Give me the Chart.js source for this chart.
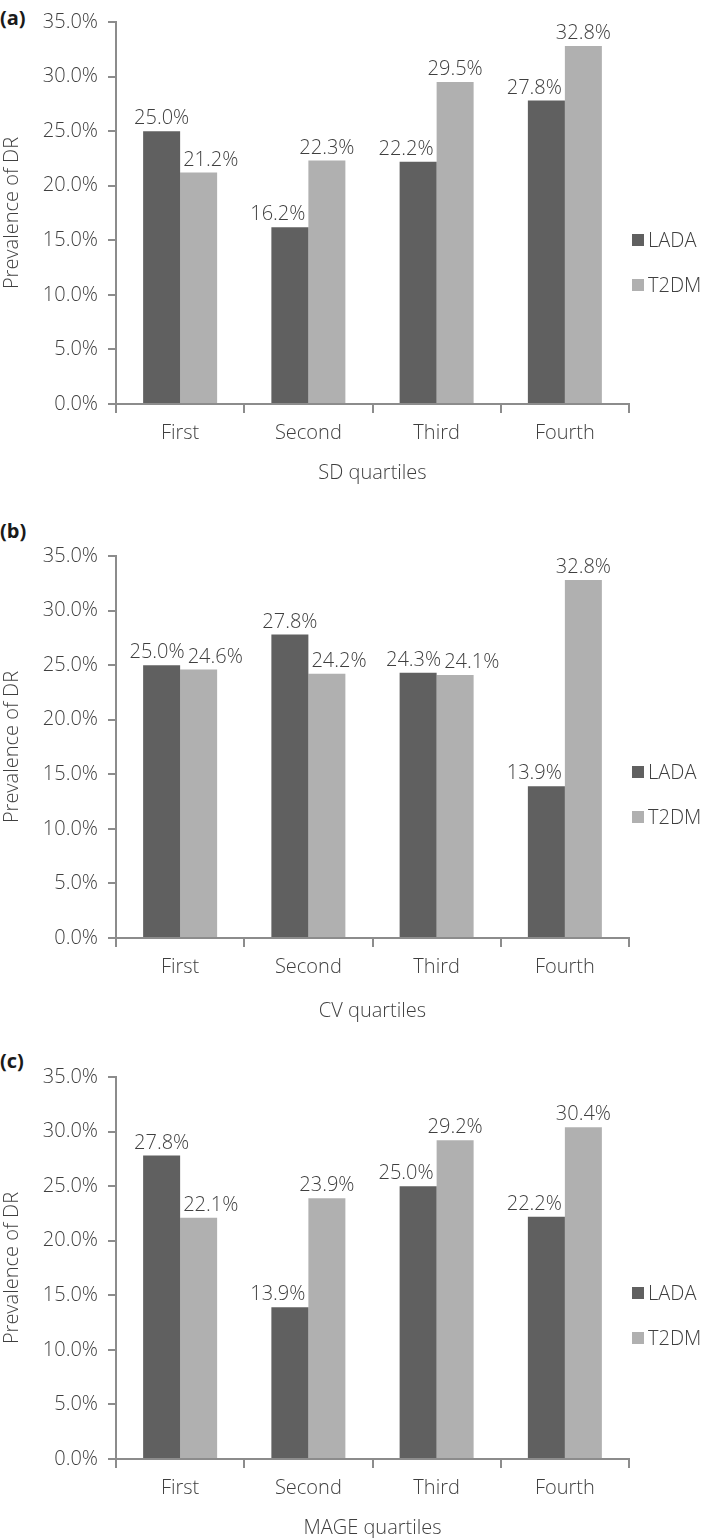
<!DOCTYPE html>
<html>
<head>
<meta charset="utf-8">
<script src="https://cdn.jsdelivr.net/npm/chart.js@4.4.1/dist/chart.umd.min.js"></script>
<style>
  html, body { margin: 0; padding: 0; background: #ffffff; }
  body { width: 709px; height: 1538px; position: relative; overflow: hidden; font-family: "Open Sans", sans-serif; }
  canvas { position: absolute; left: 0; }
  .tag { position: absolute; left: 0; font: bold 20px/24px "Open Sans", sans-serif; color: #1a1a1a; }
</style>
</head>
<body>
<div class="tag" id="tagA" style="top:6px">(a)</div>
<div class="tag" id="tagB" style="top:519px">(b)</div>
<div class="tag" id="tagC" style="top:1049px">(c)</div>
<canvas id="chartA"></canvas>
<canvas id="chartB"></canvas>
<canvas id="chartC"></canvas>
<script>
// ---------------- data ----------------
const categories = ['First', 'Second', 'Third', 'Fourth'];
const seriesNames = ['LADA', 'T2DM'];
const sdLADA   = [25.0, 16.2, 22.2, 27.8];
const sdT2DM   = [21.2, 22.3, 29.5, 32.8];
const cvLADA   = [25.0, 27.8, 24.3, 13.9];
const cvT2DM   = [24.6, 24.2, 24.1, 32.8];
const mageLADA = [27.8, 13.9, 25.0, 22.2];
const mageT2DM = [22.1, 23.9, 29.2, 30.4];
const yMin = 0, yMax = 35, yStep = 5;
const xTitles = ['SD quartiles', 'CV quartiles', 'MAGE quartiles'];
const yTitle = 'Prevalence of DR';

// ---------------- styles / layout ----------------
const TEXT = '#3f3f3f';
const AXIS = '#8c8c8c';
const COLORS = ['#606060', '#b0b0b0'];
const FONT = '"Open Sans", sans-serif';
const FW = 300;
const FS = 20;
const PLOT_TOP = 21, PLOT_H = 383, AXIS_LEFT = 116, RIGHT_PAD = 80;

const fmt = v => v.toFixed(1) + '%';
const fontObj = () => ({ family: FONT, size: FS, weight: FW });

const labelPlugin = {
  id: 'barLabels',
  afterDatasetsDraw(chart) {
    const ctx = chart.ctx;
    const m0 = chart.getDatasetMeta(0), m1 = chart.getDatasetMeta(1);
    const d0 = chart.data.datasets[0].data, d1 = chart.data.datasets[1].data;
    ctx.save();
    ctx.font = FW + ' ' + FS + 'px ' + FONT;
    ctx.fillStyle = TEXT;
    ctx.textAlign = 'center';
    ctx.textBaseline = 'alphabetic';
    const gap = 7, cap = 15, sep = 3, boxPad = 6;
    m0.data.forEach((b0, i) => {
      const b1 = m1.data[i];
      const t0 = fmt(d0[i]), t1 = fmt(d1[i]);
      const w0 = ctx.measureText(t0).width, w1 = ctx.measureText(t1).width;
      let x0 = b0.x, x1 = b1.x;
      const y0 = b0.y - gap, y1 = b1.y - gap;
      if (b1.y > b0.y && y1 + boxPad > b0.y) {
        const edge = b0.x + b0.width / 2 + sep;
        if (x1 - w1 / 2 < edge) x1 = edge + w1 / 2;
      } else if (b0.y > b1.y && y0 + boxPad > b1.y) {
        const edge = b1.x - b1.width / 2 - sep;
        if (x0 + w0 / 2 > edge) x0 = edge - w0 / 2;
      }
      const vOverlap = Math.abs(y0 - y1) < cap + 2;
      const hOverlap = (x0 + w0 / 2 + sep) - (x1 - w1 / 2);
      if (vOverlap && hOverlap > 0) { x0 -= hOverlap / 2; x1 += hOverlap / 2; }
      ctx.fillText(t0, x0, y0);
      ctx.fillText(t1, x1, y1);
    });
    ctx.restore();
  }
};

const legendPlugin = {
  id: 'sideLegend',
  afterDraw(chart, args, opts) {
    const ctx = chart.ctx;
    const a = chart.chartArea;
    ctx.save();
    ctx.font = FW + ' ' + FS + 'px ' + FONT;
    ctx.textBaseline = 'middle';
    ctx.textAlign = 'left';
    chart.data.datasets.forEach((ds, i) => {
      const cy = a.top + opts.firstY + i * opts.stepY;
      ctx.fillStyle = ds.backgroundColor;
      ctx.fillRect(a.right + 3, cy - 6, 12, 12);
      ctx.fillStyle = TEXT;
      ctx.fillText(ds.label, a.right + 19, cy + 1);
    });
    ctx.restore();
  }
};

function makeChart(id, top, titleOffset, legendY, lada, t2dm, xTitle) {
  const xH = titleOffset + 12;
  const canvas = document.getElementById(id);
  canvas.width = 709;
  canvas.height = PLOT_TOP + PLOT_H + xH;
  canvas.style.top = top + 'px';
  canvas.style.width = '709px';
  canvas.style.height = canvas.height + 'px';
  return new Chart(canvas, {
    type: 'bar',
    data: {
      labels: categories,
      datasets: [
        { label: seriesNames[0], data: lada, backgroundColor: COLORS[0], borderWidth: 0 },
        { label: seriesNames[1], data: t2dm, backgroundColor: COLORS[1], borderWidth: 0 }
      ]
    },
    options: {
      responsive: false,
      animation: false,
      devicePixelRatio: 1,
      layout: { padding: { top: PLOT_TOP, right: RIGHT_PAD, bottom: 0, left: 0 } },
      datasets: { bar: { categoryPercentage: 0.577, barPercentage: 1.0 } },
      plugins: {
        legend: { display: false },
        tooltip: { enabled: false },
        sideLegend: { firstY: legendY, stepY: 45 }
      },
      scales: {
        x: {
          offset: true,
          grid: { display: true, drawOnChartArea: false, drawTicks: true, tickLength: 9, color: AXIS, lineWidth: 2, offset: true },
          border: { display: true, color: AXIS, width: 2 },
          ticks: { font: fontObj(), color: TEXT, padding: 8, maxRotation: 0 },
          title: { display: true, text: xTitle, font: fontObj(), color: TEXT, padding: 0 },
          afterFit(scale) { scale.height = xH; }
        },
        y: {
          min: yMin, max: yMax,
          ticks: { stepSize: yStep, font: fontObj(), color: TEXT, padding: 10,
                   callback: v => Number(v).toFixed(1) + '%' },
          grid: { display: true, drawOnChartArea: false, drawTicks: true, tickLength: 8, color: AXIS, lineWidth: 2 },
          border: { display: true, color: AXIS, width: 2 },
          title: { display: true, text: yTitle, font: fontObj(), color: TEXT, padding: 0 },
          afterFit(scale) { scale.width = AXIS_LEFT; }
        }
      }
    },
    plugins: [labelPlugin, legendPlugin]
  });
}

makeChart('chartA', 0, 69, 218, sdLADA, sdT2DM, xTitles[0]);
makeChart('chartB', 534, 73, 216, cvLADA, cvT2DM, xTitles[1]);
makeChart('chartC', 1055, 69, 216, mageLADA, mageT2DM, xTitles[2]);
</script>
</body>
</html>
